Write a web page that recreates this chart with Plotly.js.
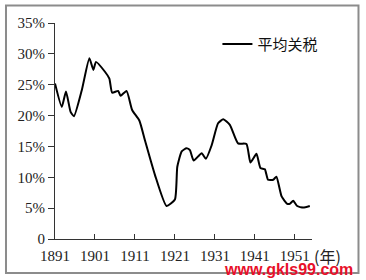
<!DOCTYPE html>
<html>
<head>
<meta charset="utf-8">
<script src="https://cdn.plot.ly/plotly-3.0.1.min.js"></script>
<style>
html,body{margin:0;padding:0;background:#fff;}
#chart{width:366px;height:280px;}
</style>
</head>
<body>
<div id="chart"></div>
<script>
const years = [1891, 1892.7, 1893.75, 1894.9, 1895.75, 1897.7, 1899.6, 1900.6, 1901.25, 1903.5, 1904.6, 1905.3, 1906.8, 1907.4, 1908.9, 1910.3, 1912.1, 1913.5, 1916, 1918.9, 1921, 1921.6, 1922.7, 1923.9, 1924.75, 1925.7, 1927.7, 1928.75, 1930.2, 1931.8, 1933.1, 1934.75, 1936.8, 1938.9, 1939.9, 1941.4, 1942.4, 1943.5, 1944.3, 1945.6, 1946.4, 1947.7, 1949.1, 1949.75, 1950.6, 1951.6, 1953.1, 1954.75];
const tariff = [25.2, 21.4, 23.9, 20.6, 19.9, 24.1, 29.3, 27.4, 28.7, 27.1, 26.0, 23.7, 24.0, 23.2, 24.0, 20.9, 19.2, 16.0, 10.4, 5.35, 6.4, 11.7, 14.2, 14.7, 14.4, 12.7, 13.9, 13.0, 15.2, 18.75, 19.4, 18.5, 15.5, 15.4, 12.4, 13.8, 11.5, 11.3, 9.6, 9.6, 10.1, 6.9, 5.7, 5.7, 6.2, 5.35, 5.1, 5.35];
const seriesName = '平均关税';
const xTickVals = [1891, 1901, 1911, 1921, 1931, 1941, 1951];
const xTickText = ['1891', '1901', '1911', '1921', '1931', '1941', '1951'];
const yTickVals = [0, 5, 10, 15, 20, 25, 30, 35];
const yTickText = ['0', '5%', '10%', '15%', '20%', '25%', '30%', '35%'];
const xUnit = '(年)';
const watermark = 'www.gkls99.com';

const serif = 'Liberation Serif, Times New Roman, serif';

Plotly.newPlot('chart', [{
  x: years, y: tariff, type: 'scatter', mode: 'lines', name: seriesName,
  line: {color: '#000', width: 2, shape: 'spline', smoothing: 0.5}
}], {
  width: 366, height: 280,
  margin: {l: 55, r: 54, t: 23, b: 41, pad: 0},
  paper_bgcolor: '#fff', plot_bgcolor: '#fff',
  showlegend: true,
  legend: {x: 0.632, y: 0.902, xanchor: 'left', yanchor: 'middle', bgcolor: 'rgba(0,0,0,0)',
           font: {family: 'Noto Sans CJK SC', size: 15, color: '#111'}},
  xaxis: {range: [1891, 1955.3], tickvals: xTickVals, ticktext: xTickText,
          ticks: 'inside', ticklen: 5, tickcolor: '#333', showline: true, linecolor: '#333', linewidth: 1,
          ticklabelstandoff: 3,
          showgrid: false, zeroline: false, tickfont: {family: serif, size: 15, color: '#222'}, fixedrange: true},
  yaxis: {range: [0, 35], tickvals: yTickVals, ticktext: yTickText,
          ticks: 'outside', ticklen: 6, tickcolor: '#333', showline: true, linecolor: '#333', linewidth: 1,
          showgrid: false, zeroline: false, tickfont: {family: serif, size: 15, color: '#222'}, fixedrange: true},
  shapes: [{type: 'rect', xref: 'paper', yref: 'paper', x0: -0.1907, x1: 1.1809, y0: -0.1574, y1: 1.0810,
            line: {color: '#8c8c8c', width: 2}, fillcolor: 'rgba(0,0,0,0)', layer: 'below'}],
  annotations: [
    {text: xUnit, xref: 'paper', yref: 'paper', x: (312 - 55) / 257, y: (239 - 256) / 216, xanchor: 'left', yanchor: 'middle',
     showarrow: false, font: {family: 'Noto Sans CJK SC', size: 16, color: '#222'}},
    {text: '<b>' + watermark + '</b>', xref: 'paper', yref: 'paper', x: (355 - 55) / 257, y: (239 - 269) / 216, xanchor: 'right', yanchor: 'middle',
     showarrow: false, font: {family: 'Liberation Sans, Arial, sans-serif', size: 16, color: '#e8102a'}}
  ]
}, {displayModeBar: false, staticPlot: true});
</script>
</body>
</html>
